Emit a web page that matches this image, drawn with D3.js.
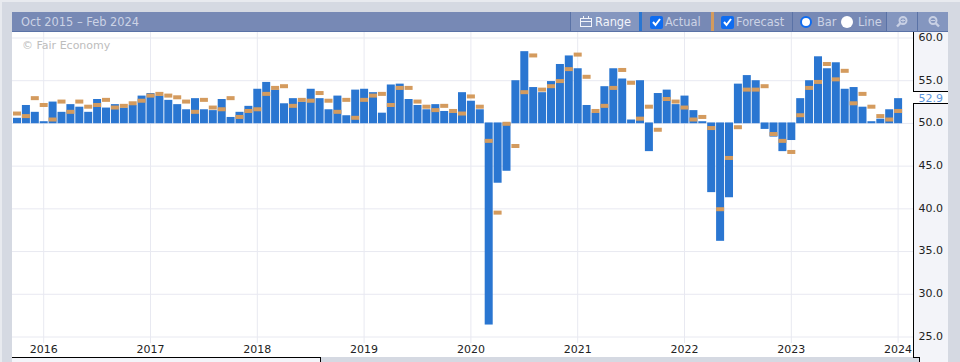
<!DOCTYPE html>
<html>
<head>
<meta charset="utf-8">
<script src="https://cdn.jsdelivr.net/npm/d3@7"></script>
<style>
html, body { margin: 0; padding: 0; background: #d5d9e2; overflow: hidden; }
svg { display: block; }
text { font-family: "DejaVu Sans", Verdana, sans-serif; }
</style>
</head>
<body>
<svg id="chart" width="960" height="362"></svg>
<script>
const months = [
  "2015-10","2015-11","2015-12",
  "2016-01","2016-02","2016-03","2016-04","2016-05","2016-06","2016-07","2016-08","2016-09","2016-10","2016-11","2016-12",
  "2017-01","2017-02","2017-03","2017-04","2017-05","2017-06","2017-07","2017-08","2017-09","2017-10","2017-11","2017-12",
  "2018-01","2018-02","2018-03","2018-04","2018-05","2018-06","2018-07","2018-08","2018-09","2018-10","2018-11","2018-12",
  "2019-01","2019-02","2019-03","2019-04","2019-05","2019-06","2019-07","2019-08","2019-09","2019-10","2019-11","2019-12",
  "2020-01","2020-02","2020-03","2020-04","2020-05","2020-06","2020-07","2020-08","2020-09","2020-10","2020-11","2020-12",
  "2021-01","2021-02","2021-03","2021-04","2021-05","2021-06","2021-07","2021-08","2021-09","2021-10","2021-11","2021-12",
  "2022-01","2022-02","2022-03","2022-04","2022-05","2022-06","2022-07","2022-08","2022-09","2022-10","2022-11","2022-12",
  "2023-01","2023-02","2023-03","2023-04","2023-05","2023-06","2023-07","2023-08","2023-09","2023-10","2023-11","2023-12",
  "2024-01"
];

const actual = [
  50.6,52.1,51.3,
  50.2,52.5,51.3,52.2,51.9,51.3,52.8,51.8,52.2,51.8,52.1,53.2,
  53.5,53.2,52.7,52.2,51.6,52.9,51.6,51.5,52.8,50.7,51.3,52.0,
  54.0,54.8,53.9,52.3,52.9,52.5,54.0,52.9,51.6,53.2,50.9,53.9,
  54.0,53.6,51.2,54.5,54.6,52.8,52.1,51.6,52.2,51.4,51.2,53.6,
  52.6,51.6,26.4,43.0,44.4,55.0,58.4,54.2,53.6,54.9,56.9,57.9,
  56.4,52.1,51.2,54.3,56.4,55.2,50.4,55.0,46.7,53.5,53.9,52.2,
  53.2,51.5,50.2,41.9,36.2,41.3,54.6,55.6,55.0,49.3,48.4,46.7,
  48.0,52.9,55.0,57.8,56.4,57.1,54.0,54.2,51.9,50.2,50.5,51.6,
  52.9
];

const forecast = [
  51.1,50.8,52.9,
  52.1,50.4,52.5,51.3,52.5,51.9,52.1,52.7,51.8,52.0,52.3,52.6,
  53.2,53.4,53.2,53.0,52.5,51.3,52.7,51.8,51.6,52.9,50.7,51.4,
  51.6,53.4,54.1,54.3,52.0,52.7,52.6,53.5,52.6,51.3,52.7,50.6,
  52.7,53.2,53.4,52.1,54.1,54.1,52.5,51.9,51.5,52.0,51.4,51.1,
  53.1,51.9,47.9,39.5,49.9,47.3,53.6,57.9,53.9,54.3,54.9,56.3,
  58.0,55.4,51.4,52.0,54.1,56.2,54.7,50.5,51.9,49.2,52.8,52.5,
  51.8,50.4,50.7,49.4,39.9,45.9,49.5,53.9,53.9,54.3,48.7,47.9,
  46.6,50.9,54.1,54.8,56.9,55.1,56.1,52.3,53.4,51.9,50.8,50.4,
  51.4
];

const yearTicks = ["2016-01","2017-01","2018-01","2019-01","2020-01","2021-01","2022-01","2023-01","2024-01"];
const valueTicks = [25,30,35,40,45,50,55,60];

const svg = d3.select("#chart");

const x = d3.scaleBand().domain(months).range([12.55, 902.55]).paddingInner(0.1).paddingOuter(0.05);
const y = d3.scaleLinear().domain([25, 60]).range([336.5, 37.5]);
const latest = actual[actual.length - 1];

// page edges
svg.append("rect").attr("width", 960).attr("height", 2).attr("fill", "#e8eaef");
svg.append("rect").attr("width", 2).attr("height", 362).attr("fill", "#e8eaef");

// plot + price panel
svg.append("rect").attr("x", 12).attr("y", 32).attr("width", 901).attr("height", 325).attr("fill", "#fff");
svg.append("rect").attr("x", 12).attr("y", 357).attr("width", 308).attr("height", 5).attr("fill", "#f3f4f9");
svg.append("rect").attr("x", 913).attr("y", 32).attr("width", 35).attr("height", 325).attr("fill", "#f3f4f9");
svg.append("rect").attr("x", 919).attr("y", 357).attr("width", 29).attr("height", 5).attr("fill", "#f3f4f9");

// grid, through the axes
const xAxis = svg.append("g").attr("transform", "translate(0,343)")
  .call(d3.axisBottom(x).tickValues(yearTicks).tickSizeInner(-311).tickSizeOuter(0).tickPadding(0).tickFormat(d => d.slice(0, 4)));
xAxis.select(".domain").remove();
xAxis.selectAll("line").attr("stroke", "#e8e9f1");
xAxis.selectAll("text").attr("y", 2).attr("dy", "0.71em").attr("fill", "#222").style("font-size", "11px")
  .style("font-family", '"DejaVu Sans", sans-serif');

const yGrid = svg.append("g").attr("transform", "translate(913,0)")
  .call(d3.axisLeft(y).tickValues(valueTicks).tickSize(901).tickFormat(""));
yGrid.select(".domain").remove();
yGrid.selectAll("line").attr("stroke", "#e8e9f1");

svg.append("text").attr("x", 22).attr("y", 49).attr("fill", "#bdbdbd").style("font-size", "11px").text("© Fair Economy");

// bars
svg.append("g").selectAll("rect").data(months).join("rect")
  .attr("x", d => x(d))
  .attr("width", x.bandwidth())
  .attr("y", (d, i) => actual[i] >= 50 ? y(actual[i]) : y(50) - 0.5)
  .attr("height", (d, i) => Math.abs(y(actual[i]) - y(50)) + (actual[i] >= 50 ? 0.3 : 0.5))
  .attr("fill", "#2a76d1");

// forecast ticks
svg.append("g").selectAll("rect").data(months).join("rect")
  .attr("x", d => x(d))
  .attr("width", x.bandwidth())
  .attr("y", (d, i) => y(forecast[i]) - 2)
  .attr("height", 4)
  .attr("fill", "#d49b5e");

// price axis
const yAxis = svg.append("g").attr("transform", "translate(913,-0.7)")
  .call(d3.axisRight(y).tickValues(valueTicks).tickSize(0).tickPadding(5.5).tickFormat(d3.format(".1f")));
yAxis.select(".domain").remove();
yAxis.selectAll("text").attr("fill", "#222").style("font-size", "11px")
  .style("font-family", '"DejaVu Sans", sans-serif');

// latest value label, cut into the panel border
const ly = Math.round(y(latest));
svg.append("rect").attr("x", 913).attr("y", ly - 6).attr("width", 35).attr("height", 11).attr("fill", "#fff");
svg.append("text").attr("x", 918.5).attr("y", ly + 4).attr("fill", "#5b94dd").style("font-size", "11px").text(d3.format(".1f")(latest));

const black = "#000";
function hline(x1, x2, yy, col) {
  svg.append("line").attr("x1", x1).attr("x2", x2).attr("y1", yy).attr("y2", yy).attr("stroke", col || black);
}
function vline(xx, y1, y2, col) {
  svg.append("line").attr("x1", xx).attr("x2", xx).attr("y1", y1).attr("y2", y2).attr("stroke", col || black);
}
vline(913.5, 32, ly - 6);
vline(913.5, ly + 5, 358);
hline(913, 948, ly - 6.5);
hline(913, 948, ly + 5.5);
hline(913, 919.5, 357.5);
vline(919.5, 357, 362);
hline(12, 320.5, 357.5);
vline(320.5, 357, 362);

// header bar
const head = svg.append("g");
head.append("rect").attr("x", 12).attr("y", 12).attr("width", 936).attr("height", 20).attr("fill", "#7789b5");
head.append("rect").attr("x", 571).attr("y", 12).attr("width", 68).attr("height", 19).attr("fill", "#8496bf");
head.append("rect").attr("x", 887).attr("y", 12).attr("width", 61).attr("height", 19).attr("fill", "#8496bf");
hline(12, 948, 31.5, "#5a72a6");
[570.5, 792.5, 886.5, 917.5].forEach(d => vline(d, 12, 32, "#5a72a6"));
head.append("rect").attr("x", 639).attr("y", 12).attr("width", 3).attr("height", 20).attr("fill", "#2a76d1");
head.append("rect").attr("x", 711).attr("y", 12).attr("width", 3).attr("height", 20).attr("fill", "#d49b5e");

function label(tx, txt, col, size) {
  head.append("text").attr("x", tx).attr("y", 26).attr("fill", col).style("font-size", (size || 11) + "px").text(txt);
}
label(21, "Oct 2015 – Feb 2024", "#ccd3e5", 11.4);
label(595, "Range", "#f2f4fa", 11.4);
label(665, "Actual", "#ccd3e5", 11.4);
label(736, "Forecast", "#ccd3e5", 11.4);
label(817, "Bar", "#ccd3e5", 11.4);
label(858, "Line", "#ccd3e5", 11.4);

// calendar icon
head.append("rect").attr("x", 580.5).attr("y", 18.5).attr("width", 11).attr("height", 8).attr("fill", "none").attr("stroke", "#f2f4fa");
hline(580, 592, 21.5, "#f2f4fa");
vline(583.5, 16, 19, "#f2f4fa");
vline(588.5, 16, 19, "#f2f4fa");

// checkboxes
[650, 721].forEach(cx => {
  head.append("rect").attr("x", cx).attr("y", 16).attr("width", 13).attr("height", 13).attr("rx", 2).attr("fill", "#0f6cf0");
  head.append("path").attr("d", `M${cx + 3},${22} L${cx + 5.5},${25} L${cx + 10},${19}`)
    .attr("fill", "none").attr("stroke", "#fff").attr("stroke-width", 2);
});

// radios
head.append("circle").attr("cx", 806).attr("cy", 22).attr("r", 5).attr("fill", "#fff").attr("stroke", "#0f6cf0").attr("stroke-width", 2);
head.append("circle").attr("cx", 847).attr("cy", 22).attr("r", 6).attr("fill", "#fff");

// zoom icons
[[903, true], [933, false]].forEach(([cx, plus]) => {
  head.append("circle").attr("cx", cx).attr("cy", 20.5).attr("r", 3.5).attr("fill", "none").attr("stroke", "#c8d0e4").attr("stroke-width", 2);
  head.append("line").attr("x1", plus ? cx - 2.5 : cx + 2.5).attr("x2", plus ? cx - 6 : cx + 6)
    .attr("y1", 23).attr("y2", 26.5).attr("stroke", "#c8d0e4").attr("stroke-width", 2.4);
  hline(cx - 2, cx + 2, 20.5, "#c8d0e4");
  if (plus) vline(cx, 18.5, 22.5, "#c8d0e4");
});
</script>
</body>
</html>
